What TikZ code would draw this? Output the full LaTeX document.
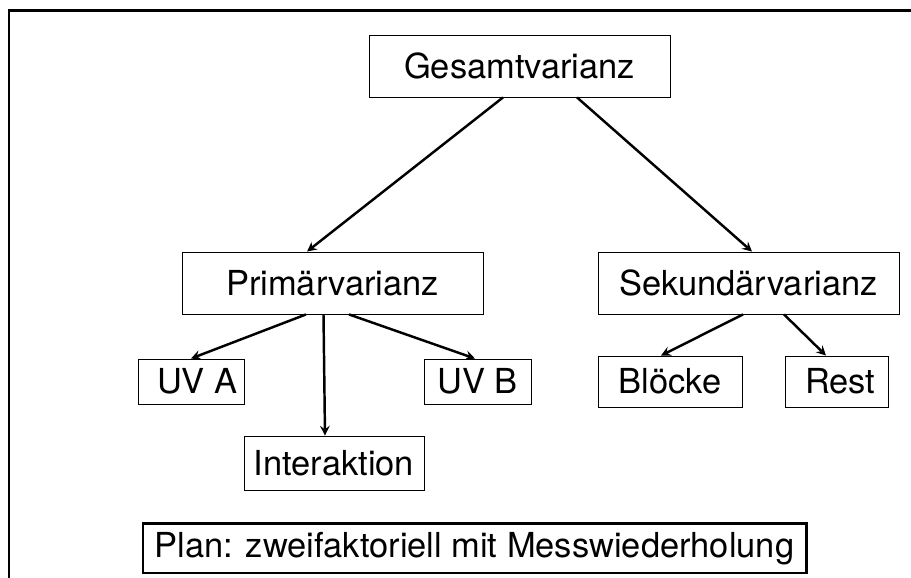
\documentclass[tikz,border=0pt]{standalone}
\usepackage{fontspec}
\setmainfont{TeX Gyre Heros}
\tikzset{>=stealth}
\tikzset{box/.style={draw,line width=0.5pt,inner sep=0pt,font=\fontsize{19.6}{23}\selectfont},
  arr/.style={->,line width=1.4pt}}

\begin{document}
\begin{tikzpicture}
\useasboundingbox (0,0) rectangle (18.22,11.56);
\draw[line width=1.7pt] (0.18,0) -- (0.18,11.34) -- (18.22,11.34);
\node[box,minimum width=6.02cm,minimum height=1.24cm] (gesamt) at (10.39,10.24) {Gesamtvarianz};
\node[box,minimum width=6.02cm,minimum height=1.24cm] (prim) at (6.65,5.90) {Primärvarianz\hspace{0.5cm}};
\node[box,minimum width=6.02cm,minimum height=1.24cm] (sek) at (14.97,5.90) {Sekundärvarianz};
\node[box,minimum width=2.12cm,minimum height=0.90cm] (uva) at (3.82,3.93) {\hspace{0.25cm}UV A};
\node[box,minimum width=2.14cm,minimum height=0.90cm] (uvb) at (9.55,3.93) {UV B};
\node[box,minimum width=3.60cm,minimum height=1.08cm] (inter) at (6.68,2.30) {Interaktion};
\node[box,minimum width=2.88cm,minimum height=1.02cm] (bloecke) at (13.40,3.93) {Blöcke};
\node[box,minimum width=2.06cm,minimum height=1.02cm] (rest) at (16.73,3.93) {\hspace{0.15cm}Rest};
\node[box,line width=1.7pt,minimum width=13.26cm,minimum height=0.98cm] (plan) at (9.49,0.59) {Plan: zweifaktoriell mit Messwiederholung};
% Gesamtvarianz
\draw[arr] ([xshift=-0.33cm]gesamt.south) -- ([xshift=-0.51cm]prim.north);
\draw[arr] ([xshift=1.15cm]gesamt.south) -- ([xshift=0.07cm]sek.north);
% Primaervarianz
\draw[arr] ([xshift=-0.53cm]prim.south) -- (uva.north);
\draw[arr] ([xshift=-0.18cm]prim.south) -- ([xshift=-0.18cm]inter.north);
\draw[arr] ([xshift=0.33cm]prim.south) -- ([xshift=-0.05cm]uvb.north);
% Sekundaervarianz
\draw[arr] ([xshift=-0.11cm]sek.south) -- ([xshift=-0.18cm]bloecke.north);
\draw[arr] ([xshift=0.71cm]sek.south) -- ([xshift=-0.21cm]rest.north);
\end{tikzpicture}
\end{document}
